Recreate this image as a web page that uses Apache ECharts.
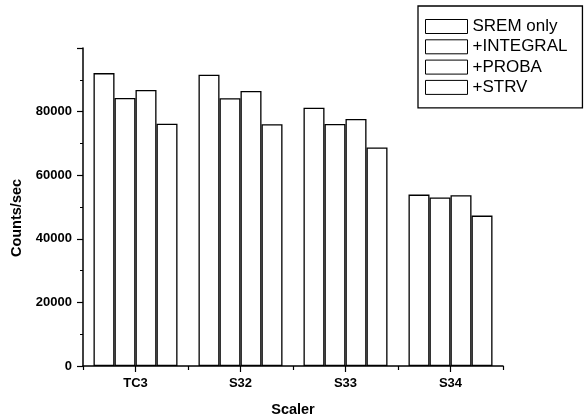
<!DOCTYPE html>
<html><head><meta charset="utf-8">
<script src="https://cdn.jsdelivr.net/npm/echarts@6/dist/echarts.min.js"></script>
<style>html,body{margin:0;padding:0;background:#fff}#c{width:587px;height:419px}</style>
</head><body><div id="c"></div>
<script>
const categories = ['TC3', 'S32', 'S33', 'S34'];
const seriesNames = ['SREM only', '+INTEGRAL', '+PROBA', '+STRV'];
const sremOnly = [92100, 91600, 81200, 53900];
const integral = [84300, 84200, 76100, 53000];
const proba = [86800, 86500, 77700, 53700];
const strv = [76200, 76000, 68700, 47300];
const yTicks = [0, 20000, 40000, 60000, 80000, 100000];

const values = [sremOnly, integral, proba, strv];
const font = 'Liberation Sans, Arial, sans-serif';
const chart = echarts.init(document.getElementById('c'), null, {renderer: 'canvas'});
chart.setOption({
  animation: false,
  backgroundColor: '#fff',
  grid: {left: 83, right: 84, top: 48, bottom: 53, containLabel: false, outerBoundsMode: 'none'},
  legend: {
    orient: 'vertical', left: 418, top: 6,
    itemWidth: 42, itemHeight: 14, itemGap: 3.3,
    padding: [12, 15, 12, 7],
    borderColor: '#000', borderWidth: 1.3, backgroundColor: '#fff',
    textStyle: {fontFamily: font, fontSize: 17, color: '#000'},
    data: seriesNames.map(n => ({name: n, icon: 'rect', itemStyle: {color: '#fff', borderColor: '#000', borderWidth: 1}}))
  },
  xAxis: [{
    type: 'category', data: categories, position: 'bottom',
    name: 'Scaler', nameLocation: 'middle', nameGap: 36,
    nameTextStyle: {fontFamily: font, fontSize: 14.5, fontWeight: 'bold', color: '#000'},
    axisLine: {lineStyle: {color: '#000', width: 1.5}},
    axisTick: {show: true, length: 4, lineStyle: {color: '#000', width: 1.2}},
    axisLabel: {fontFamily: font, fontSize: 13, fontWeight: 'bold', color: '#000', margin: 11},
    splitLine: {show: false}
  }, {
    type: 'category', data: categories, position: 'bottom',
    axisLine: {show: false},
    axisTick: {show: true, alignWithLabel: true, length: 6, lineStyle: {color: '#000', width: 1.2}},
    axisLabel: {show: false}
  }],
  yAxis: {
    type: 'value', min: yTicks[0], max: yTicks[yTicks.length - 1], interval: 20000,
    name: 'Counts/sec', nameLocation: 'middle', nameGap: 54,
    nameTextStyle: {fontFamily: font, fontSize: 14.5, fontWeight: 'bold', color: '#000', padding: [0, 22, 0, 0]},
    axisLine: {show: true, lineStyle: {color: '#000', width: 1.5}},
    axisTick: {show: true, length: 6, lineStyle: {color: '#000', width: 1.2}},
    minorTick: {show: true, splitNumber: 2, length: 3, lineStyle: {color: '#000', width: 1}},
    axisLabel: {fontFamily: font, fontSize: 13, fontWeight: 'bold', color: '#000', margin: 11, showMaxLabel: false, formatter: v => String(v)},
    splitLine: {show: false}
  },
  series: seriesNames.map((n, i) => ({
    name: n, type: 'bar', data: values[i],
    barGap: '0%', barCategoryGap: '20%',
    itemStyle: {color: '#fff', borderColor: '#000', borderWidth: 1.3}
  }))
});
</script></body></html>
